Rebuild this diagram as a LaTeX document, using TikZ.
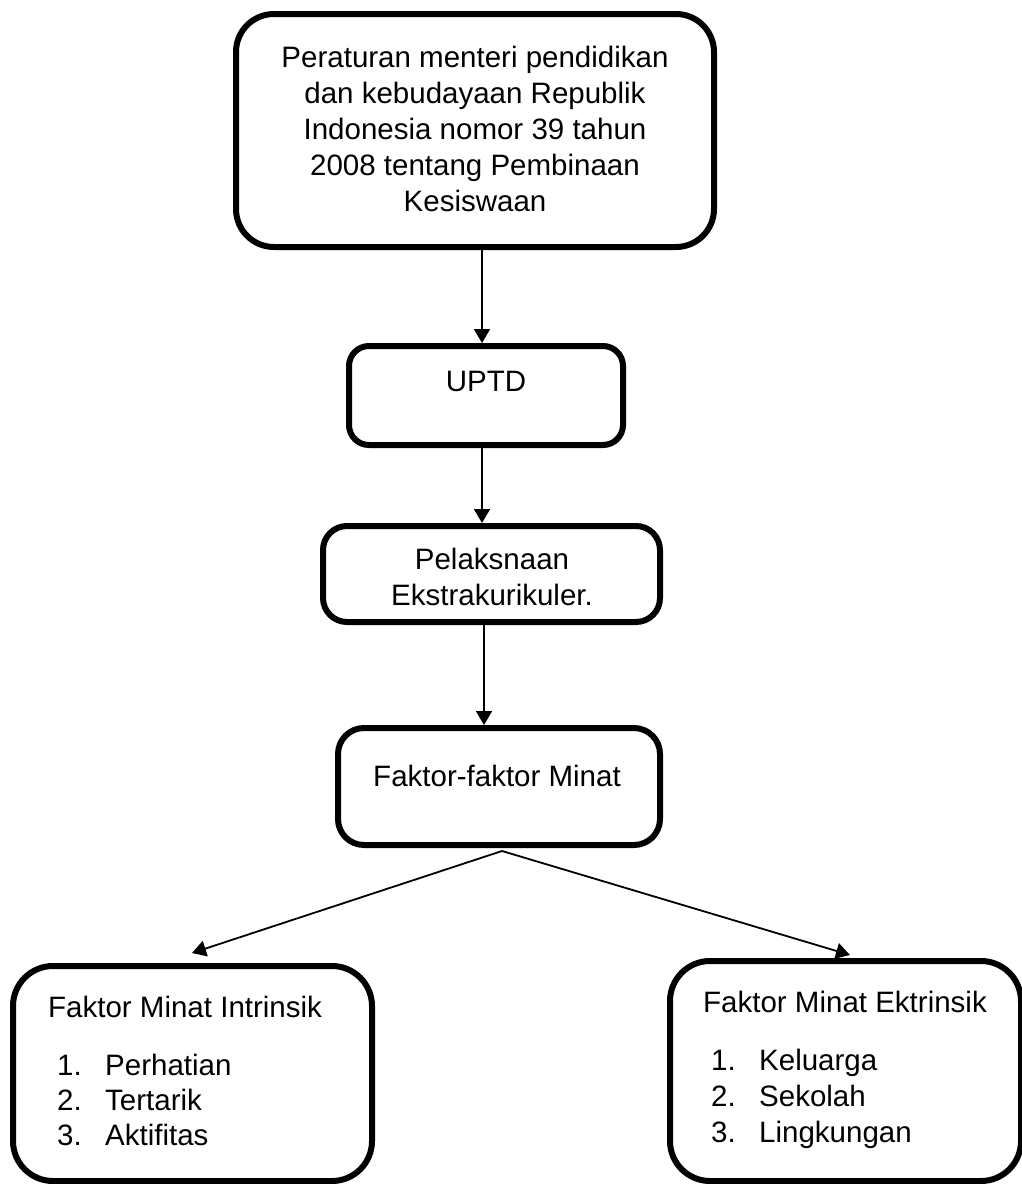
\documentclass[tikz,border=0pt]{standalone}
\usepackage{fontspec}
\setmainfont{Liberation Sans}
\usetikzlibrary{arrows.meta}
\begin{document}
\begin{tikzpicture}[x=1pt,y=-1pt,
  box/.style={draw=black, fill=white, line width=6pt, inner sep=0pt},
  txt/.style={inner sep=0pt, anchor=base, font=\fontsize{29.5}{36}\selectfont},
  ltxt/.style={txt, anchor=base west},
  arr/.style={line width=1.8pt, -{Triangle[length=14pt,width=16pt]}}]
\fill[white] (0,0) rectangle (1022,1184);
\useasboundingbox (0,0) rectangle (1022,1184);

% boxes
\node[box, rounded corners=38pt, minimum width=478pt, minimum height=233pt] (top) at (475,130.5) {};
\node[box, rounded corners=20pt, minimum width=274pt, minimum height=99pt] (uptd) at (486,395.5) {};
\node[box, rounded corners=24pt, minimum width=337pt, minimum height=96pt] (pel) at (491.5,574) {};
\node[box, rounded corners=26pt, minimum width=322pt, minimum height=117pt] (fak) at (499,786.5) {};
\node[box, rounded corners=40pt, minimum width=359pt, minimum height=215pt] (intr) at (192.5,1073.5) {};
\node[box, rounded corners=40pt, minimum width=351pt, minimum height=220pt] (ekst) at (845.5,1071) {};

% texts
\node[txt] (t1) at (475,67) {Peraturan menteri pendidikan};
\node[txt] (t2) at (475,103) {dan kebudayaan Republik};
\node[txt] (t3) at (475,139) {Indonesia nomor 39 tahun};
\node[txt] (t4) at (475,175) {2008 tentang Pembinaan};
\node[txt] (t5) at (475,211) {Kesiswaan};
\node[txt] (u1) at (486,391) {UPTD};
\node[txt] (p1) at (492,569) {Pelaksnaan};
\node[txt] (p2) at (492,605) {Ekstrakurikuler.};
\node[txt] (f1) at (497,786) {Faktor-faktor Minat};

\node[ltxt] (i0) at (48,1017) {Faktor Minat Intrinsik};
\node[ltxt] (in1) at (57,1075) {1.};
\node[ltxt] (in2) at (57,1110) {2.};
\node[ltxt] (in3) at (57,1145) {3.};
\node[ltxt] (i1) at (105,1075) {Perhatian};
\node[ltxt] (i2) at (105,1110) {Tertarik};
\node[ltxt] (i3) at (105,1145) {Aktifitas};

\node[ltxt] (e0) at (703,1012) {Faktor Minat Ektrinsik};
\node[ltxt] (en1) at (711,1070) {1.};
\node[ltxt] (en2) at (711,1106) {2.};
\node[ltxt] (en3) at (711,1142) {3.};
\node[ltxt] (e1) at (759,1070) {Keluarga};
\node[ltxt] (e2) at (759,1106) {Sekolah};
\node[ltxt] (e3) at (759,1142) {Lingkungan};

% connectors
\draw[arr] ([xshift=7pt]top.south) -- ([xshift=-4pt]uptd.north);
\draw[arr] ([xshift=-4pt]uptd.south) -- ([xshift=-9.5pt]pel.north);
\draw[arr] ([xshift=-7.5pt]pel.south) -- ([xshift=-15pt]fak.north);
\coordinate (br) at ([xshift=3pt,yshift=-3pt]fak.south);
\coordinate (lt) at (192,953);
\coordinate (rt) at (850,955);
\draw[arr] (br) -- (lt);
\draw[arr] (br) -- (rt);
\end{tikzpicture}
\end{document}
